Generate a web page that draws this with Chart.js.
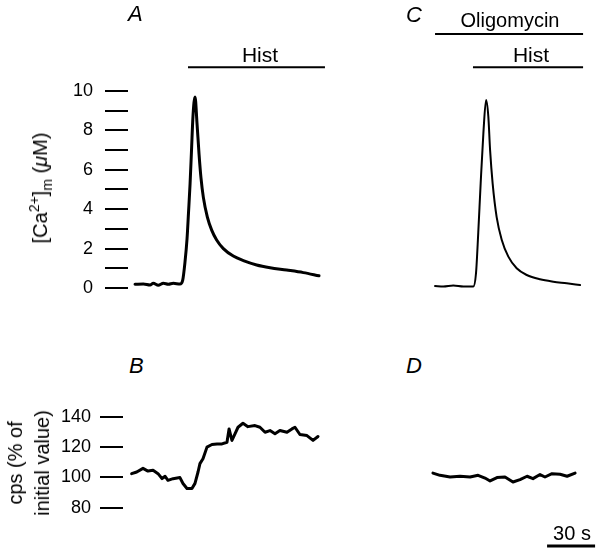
<!DOCTYPE html>
<html>
<head>
<meta charset="utf-8">
<script src="https://cdn.jsdelivr.net/npm/chart.js@4.4.0/dist/chart.umd.min.js"></script>
<style>
body { margin: 0; background: #fff; }
#page { position: relative; width: 601px; height: 552px; overflow: hidden; font-family: "Liberation Sans", Arial, sans-serif; color: #000; }
canvas { position: absolute; }
.lbl { position: absolute; font-size: 20px; line-height: 20px; white-space: nowrap; }
.ctr { transform: translateX(-50%); }
.it { font-style: italic; font-size: 22px; line-height: 22px; }
.rot { transform: translate(-50%, -50%) rotate(-90deg); text-align: center; }
sup, sub { font-size: 0.7em; line-height: 0; }
</style>
</head>
<body>
<div id="page">
  <canvas id="chartA" width="330" height="300" style="left:0;top:0"></canvas>
  <canvas id="chartC" width="173" height="300" style="left:428px;top:0"></canvas>
  <canvas id="chartB" width="330" height="162" style="left:0;top:390px"></canvas>
  <canvas id="chartD" width="173" height="162" style="left:428px;top:390px"></canvas>

  <div class="lbl it" style="left:128px;top:3px;">A</div>
  <div class="lbl ctr" style="left:260px;top:45px;font-size:21px">Hist</div>
  <div class="lbl it" style="left:406px;top:4px;">C</div>
  <div class="lbl ctr" style="left:510px;top:10px;">Oligomycin</div>
  <div class="lbl ctr" style="left:531px;top:45px;font-size:21px">Hist</div>
  <div class="lbl it" style="left:129px;top:355px;">B</div>
  <div class="lbl it" style="left:406px;top:355px;">D</div>
  <div class="lbl ctr" style="left:572px;top:523px;">30 s</div>

  <div class="lbl rot" style="left:40px;top:188px;">[Ca<sup>2+</sup>]<sub>m</sub> (<i>μ</i>M)</div>
  <div class="lbl rot" style="left:29px;top:463px;line-height:27px;">cps (% of<br>initial value)</div>
</div>
<script>
// y axis ticks
const caTicks = [0, 1, 2, 3, 4, 5, 6, 7, 8, 9, 10];
const caTickLabels = ['0', '', '2', '', '4', '', '6', '', '8', '', '10'];
const cpsTicks = [80, 100, 120, 140];
const cpsTickLabels = ['80', '100', '120', '140'];

// A: [Ca2+]m, control (time in s)
const timeA = [4.4, 9.6, 13.8, 15.8, 18.9, 22.1, 25.2, 28.3, 32.5, 34.2, 35.6, 36.9, 37.8, 38.8, 39.7, 40.6, 41.9,
  43.1, 44.4, 45.6, 47.1, 49.6, 52.3, 55.4, 59.6, 65.8, 72.1, 80.4, 88.8, 99.2, 109.6, 119.4];
const caA = [0.19, 0.2, 0.15, 0.24, 0.14, 0.24, 0.19, 0.24, 0.2, 0.4, 1.3, 2.5, 3.8, 5.3, 7.0, 8.7, 9.7,
  8.4, 6.8, 5.6, 4.6, 3.6, 2.94, 2.44, 2.0, 1.62, 1.39, 1.17, 1.03, 0.91, 0.78, 0.62];

// C: [Ca2+]m with oligomycin
const timeC = [4.4, 9.6, 15.8, 22.1, 28.3, 30, 31.4, 32.9, 34.6, 36.3, 37.7, 38.8, 40.4, 42.9, 46.1, 50.2,
  55.4, 61.7, 70, 78.3, 86.7, 95];
const caC = [0.1, 0.07, 0.12, 0.07, 0.07, 0.75, 2.8, 5.3, 7.85, 9.54, 8.7, 7.0, 5.3, 3.6, 2.44, 1.59,
  1.0, 0.66, 0.44, 0.32, 0.24, 0.15];

// B: cps (% of initial value), control
const timeB = [5.4, 8.6, 12.5, 15.6, 18.8, 21.9, 24.4, 26.3, 28.1, 31.3, 35.6, 37.5, 40, 43.1, 45, 46.9, 48.1,
  50, 52.5, 55.6, 58.8, 61.9, 65, 66.3, 68.1, 70, 71.9, 75, 78.1, 82.5, 85.6, 88.8, 91.9, 95, 98.1, 102.5,
  105.6, 107.5, 110.6, 115, 118.8, 121.9];
const cpsB = [102.4, 103.5, 105.9, 104.1, 104.6, 102.4, 99.1, 100.7, 98, 99.1, 99.8, 95.9, 92.6, 92.6, 96, 103.5, 109,
  112.2, 119.9, 121.6, 122, 122, 123.1, 131.9, 124.3, 128.7, 133, 135.6, 133.4, 134.1, 133, 129.7, 130.8, 128.7, 130.8, 129.7,
  131.9, 133, 128.2, 127.5, 124.3, 126.9];

// D: cps with oligomycin
const timeD = [3.1, 7.5, 13.8, 20, 26.3, 31.3, 35.6, 38.8, 43.1, 48.1, 53.1, 57.5, 61.9, 65.6, 70, 73.1,
  77.5, 82.5, 86.9, 91.9];
const cpsD = [102.8, 101.3, 100.2, 100.7, 100.2, 101.3, 99.5, 97.6, 99.8, 100.2, 96.9, 98.5, 100.7, 99.1, 101.8, 100.2,
  102.4, 102, 100.7, 102.8];

// treatment bars (start/end in s) and scale bar
const histA = [37.5, 123.1];
const histC = [28.1, 96.9];
const oligoC = [4.4, 96.9];
const histLevel = 11.2;
const oligoLevel = 12.9;
const scaleBar = [74.4, 104.4];
const scaleBarLevel = 54.7;

function xy(xs, ys) {
  return xs.map((x, i) => ({ x: x, y: ys[i] }));
}

function trace(xs, ys, width, smooth) {
  return {
    data: xy(xs, ys), borderColor: '#000', borderWidth: width, pointRadius: 0,
    borderJoinStyle: 'round', borderCapStyle: 'round',
    cubicInterpolationMode: smooth ? 'monotone' : 'default', tension: 0
  };
}

function bar(span, level, width) {
  return { data: xy(span, [level, level]), borderColor: '#000', borderWidth: width, pointRadius: 0 };
}

function panel(id, datasets, yMin, yMax, xMax, axis) {
  const y = { type: 'linear', min: yMin, max: yMax, display: !!axis };
  if (axis) {
    Object.assign(y, {
      afterBuildTicks: s => { s.ticks = axis.values.map(v => ({ value: v })); },
      afterFit: s => { s.width = axis.width; s.paddingTop = 0; s.paddingBottom = 0; },
      grid: { drawOnChartArea: false, tickLength: 23, lineWidth: 2, color: '#000' },
      border: { display: false },
      ticks: {
        autoSkip: false, padding: axis.pad, color: '#000',
        font: { family: 'Liberation Sans', size: 18 },
        callback: (v, i) => axis.labels[i]
      }
    });
  }
  return new Chart(document.getElementById(id), {
    type: 'line',
    data: { datasets: datasets },
    options: {
      responsive: false, animation: false, events: [],
      layout: { padding: 0 },
      plugins: { legend: { display: false }, tooltip: { enabled: false } },
      scales: { x: { type: 'linear', min: 0, max: xMax, display: false }, y: y }
    }
  });
}

const caMin = -0.61, caMax = 14.62;
const cpsMin = 50.76, cpsMax = 157.55;

panel('chartA', [trace(timeA, caA, 3, true), bar(histA, histLevel, 2)], caMin, caMax, 126.25,
  { values: caTicks, labels: caTickLabels, width: 128, pad: 12 });
panel('chartC', [trace(timeC, caC, 2, true), bar(histC, histLevel, 2), bar(oligoC, oligoLevel, 2)], caMin, caMax, 108.1);
panel('chartB', [trace(timeB, cpsB, 3, false)], cpsMin, cpsMax, 129.4,
  { values: cpsTicks, labels: cpsTickLabels, width: 123, pad: 9 });
panel('chartD', [trace(timeD, cpsD, 3, false), bar(scaleBar, scaleBarLevel, 3)], cpsMin, cpsMax, 108.1);
</script>
</body>
</html>
